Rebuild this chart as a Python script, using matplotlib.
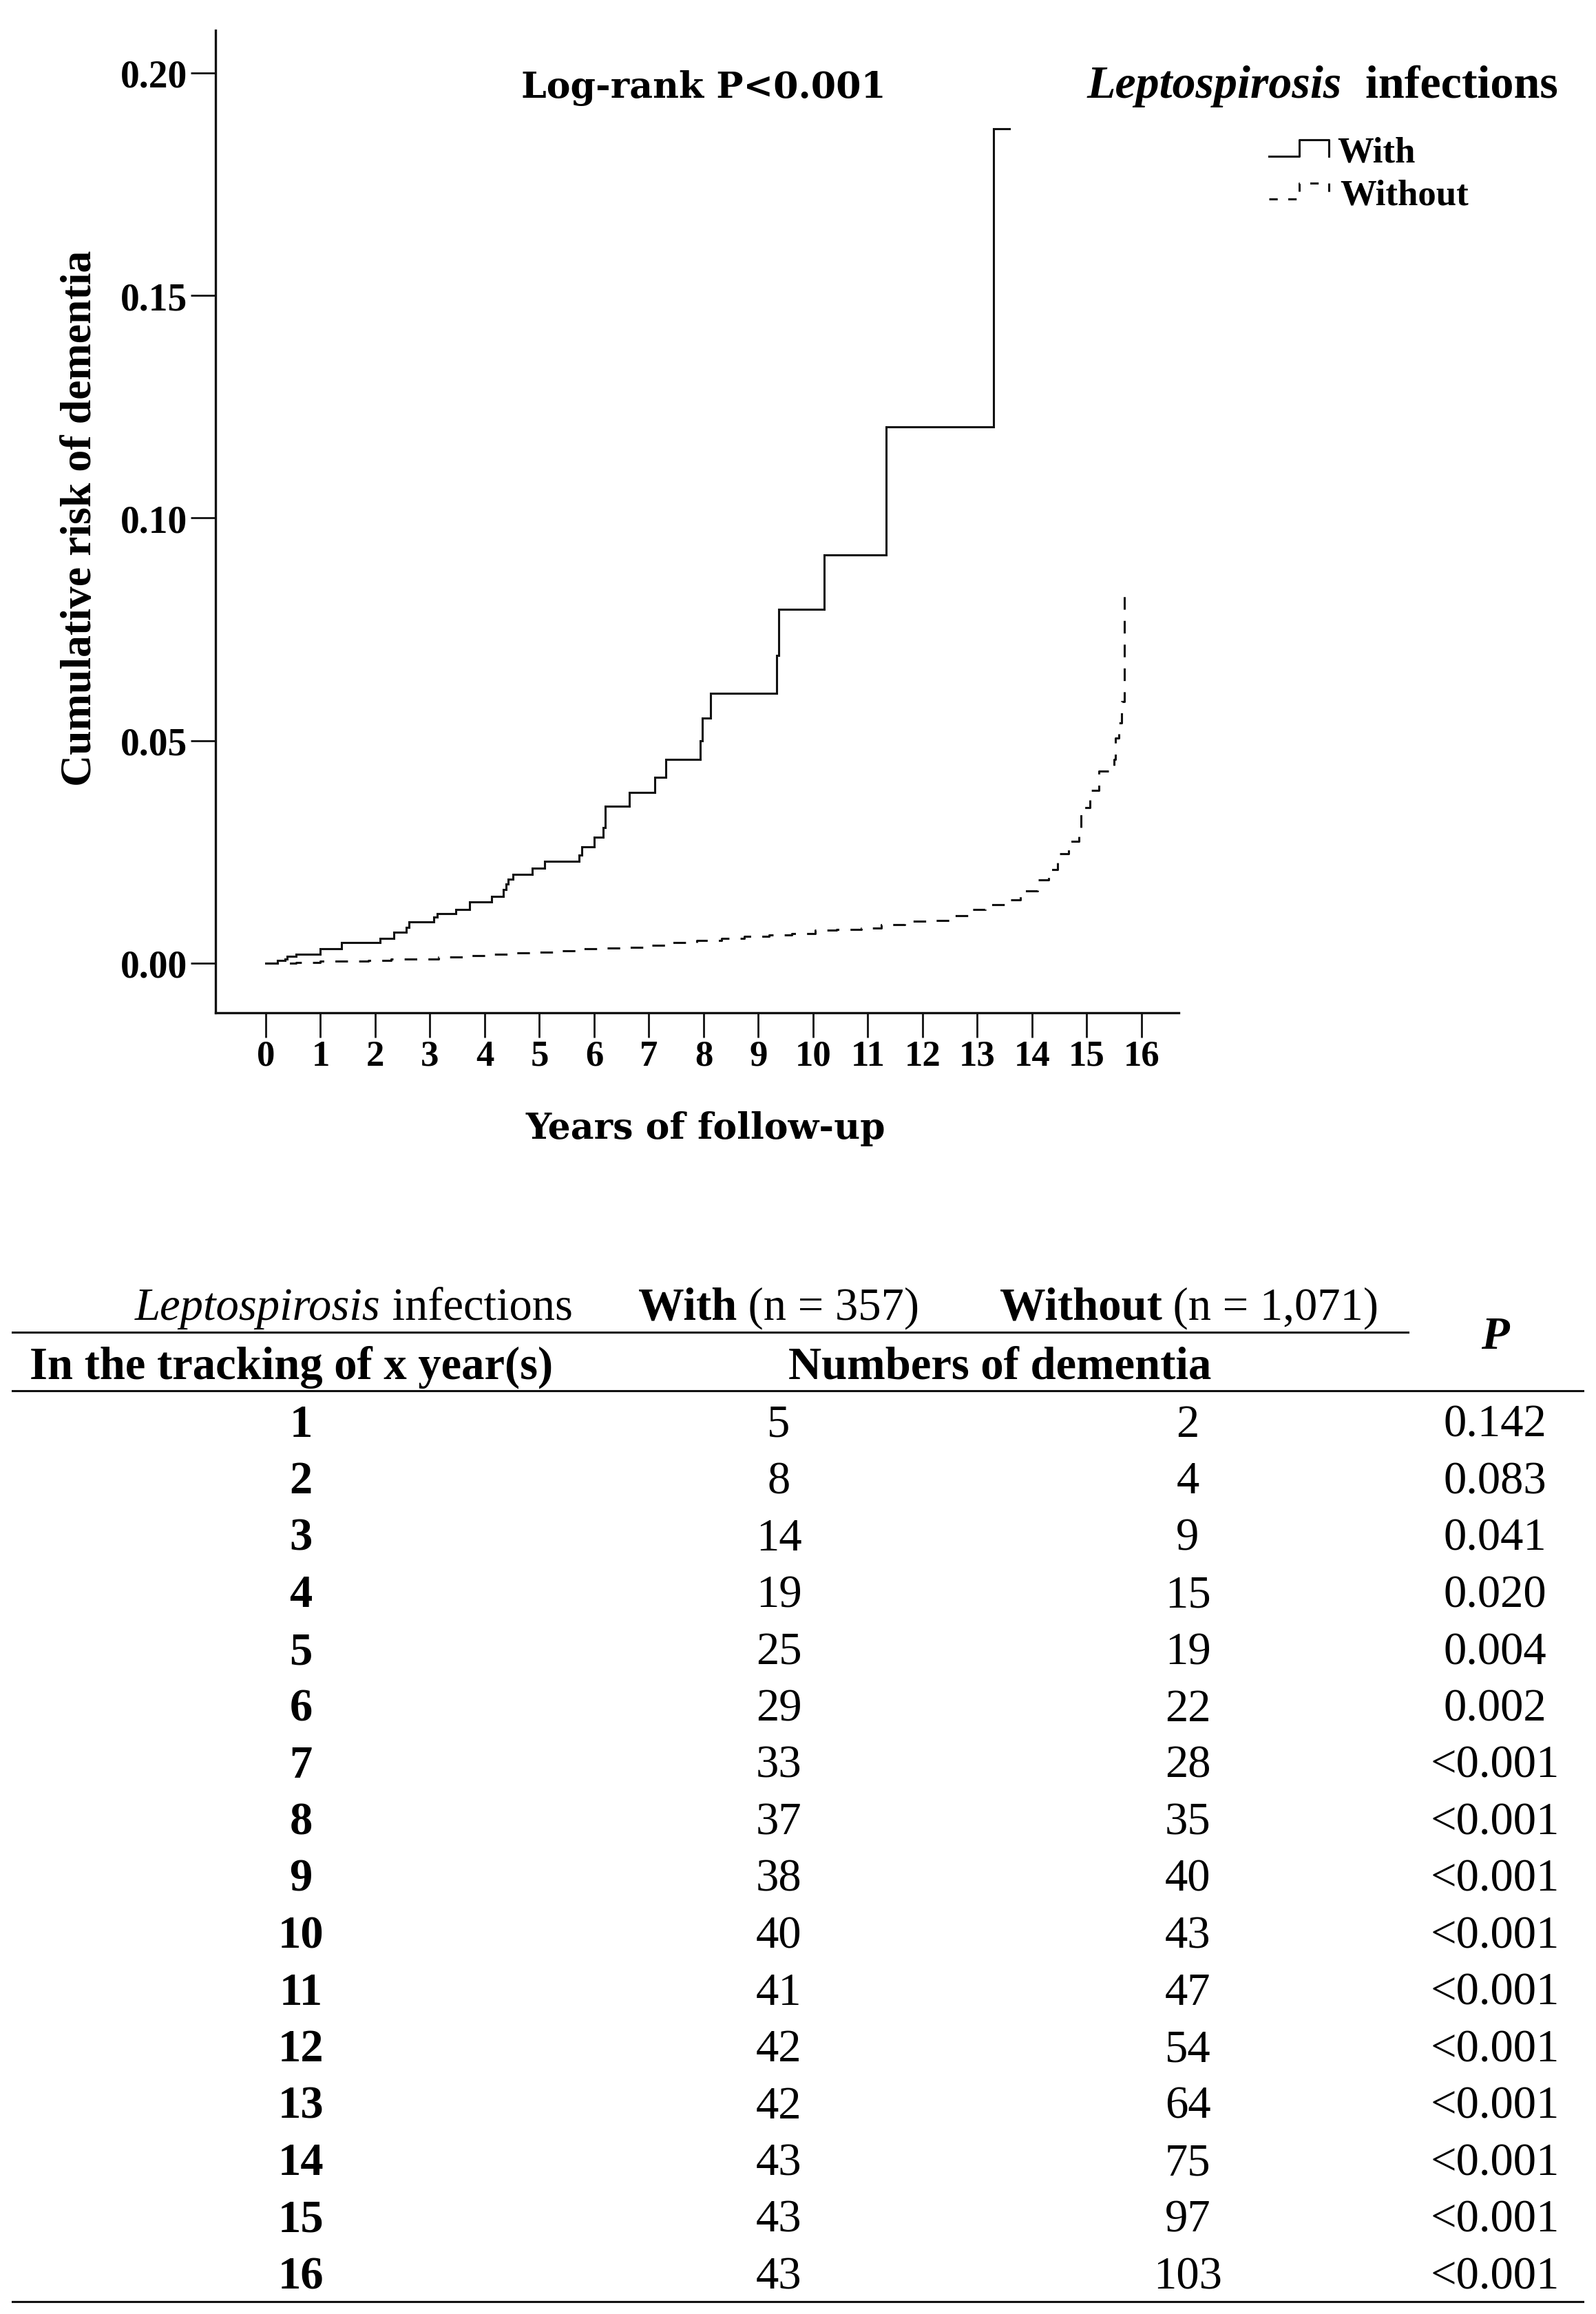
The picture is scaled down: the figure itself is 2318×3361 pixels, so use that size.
import matplotlib
matplotlib.use("Agg")
import matplotlib.pyplot as plt
from matplotlib.lines import Line2D

# ---------------- data ----------------
with_t = [0, 0.21, 0.35, 0.39, 0.55, 0.99, 1.39, 2.09, 2.34, 2.57, 2.62, 3.07, 3.13, 3.47,
          3.72, 4.12, 4.34, 4.39, 4.43, 4.51, 4.87, 5.10, 5.72, 5.77, 6.00, 6.17, 6.20, 6.64,
          7.11, 7.31, 7.94, 7.98, 8.13, 9.33, 9.37, 10.20, 11.33, 13.29, 13.59]
with_v = [0, 0.0006, 0.0009, 0.0015, 0.0020, 0.0032, 0.0047, 0.0055, 0.0070, 0.0080, 0.0092,
          0.0103, 0.0111, 0.0120, 0.0138, 0.0150, 0.0165, 0.0178, 0.0188, 0.0200, 0.0213,
          0.0229, 0.0242, 0.0262, 0.0283, 0.0304, 0.0352, 0.0384, 0.0418, 0.0458, 0.0500,
          0.0551, 0.0606, 0.0692, 0.0795, 0.0917, 0.1205, 0.1874, 0.1874]

without_t = [0, 0.55, 1.00, 1.87, 2.29, 2.74, 3.16, 3.61, 4.03, 4.48, 4.90, 5.35, 5.77, 6.20,
             6.64, 7.04, 7.43, 7.88, 8.33, 8.74, 9.19, 9.61, 10.04, 10.43, 10.88, 11.25, 11.67,
             12.10, 12.49, 12.83, 13.14, 13.56, 13.79, 14.10, 14.30, 14.47, 14.67, 14.85,
             14.89, 15.06, 15.22, 15.50, 15.52, 15.58, 15.63, 15.68, 15.83]
without_v = [0, 0.0001, 0.0004, 0.0006, 0.0009, 0.0010, 0.0014, 0.0017, 0.0020, 0.0023, 0.0025,
             0.0028, 0.0032, 0.0034, 0.0036, 0.0040, 0.0046, 0.0051, 0.0055, 0.0060, 0.0063,
             0.0067, 0.0074, 0.0075, 0.0079, 0.0087, 0.0094, 0.0096, 0.0107, 0.0121, 0.0132,
             0.0143, 0.0163, 0.0187, 0.0211, 0.0246, 0.0273, 0.0305, 0.0349, 0.0388, 0.0432,
             0.0458, 0.0506, 0.0540, 0.0587, 0.0830, 0.0830]

x_ticks = list(range(0, 17))
y_ticks = [0.00, 0.05, 0.10, 0.15, 0.20]
y_tick_labels = ["0.00", "0.05", "0.10", "0.15", "0.20"]

years = list(range(1, 17))
with_counts = [5, 8, 14, 19, 25, 29, 33, 37, 38, 40, 41, 42, 42, 43, 43, 43]
without_counts = [2, 4, 9, 15, 19, 22, 28, 35, 40, 43, 47, 54, 64, 75, 97, 103]
p_values = ["0.142", "0.083", "0.041", "0.020", "0.004", "0.002"] + ["<0.001"] * 10

# ---------------- figure ----------------
W, H = 2318, 3362
DPI = 100
fig = plt.figure(figsize=(W / DPI, H / DPI), dpi=DPI)
fig.patch.set_facecolor("white")


def X(px):
    return px / W


def Y(py):
    return 1 - py / H


SERIF = ["Liberation Serif", "DejaVu Serif"]
WIDE = ["DejaVu Serif"]

ax = fig.add_axes([X(313), Y(1472), X(1712) - X(313), (1472 - 45) / H])
ax.step(with_t, with_v, where="post", color="#111111", lw=2.2, solid_joinstyle="miter")
ax.step(without_t, without_v, where="post", color="#111111", lw=2.2, dashes=(6, 5.3))

ax.set_xlim(-0.918, 16.68)
ax.set_ylim(-0.01114, 0.20956)
for s in ["top", "right"]:
    ax.spines[s].set_visible(False)
for s in ["left", "bottom"]:
    ax.spines[s].set_linewidth(2.4)
    ax.spines[s].set_color("#111111")

ax.set_xticks(x_ticks)
ax.set_xticklabels([str(t) for t in x_ticks], fontfamily=SERIF, fontweight="bold", fontsize=38)
ax.set_yticks(y_ticks)
ax.set_yticklabels(y_tick_labels, fontfamily=SERIF, fontweight="bold", fontsize=40)
ax.tick_params(axis="x", direction="out", length=26, width=2.0, pad=2, color="#111111")
ax.tick_params(axis="y", direction="out", length=26, width=2.0, pad=3.6, color="#111111")

# axis texts
fig.text(X(132), Y(753), "Cumulative risk of dementia", rotation=90, rotation_mode="anchor",
         ha="center", va="baseline", fontfamily=SERIF, fontweight="bold", fontsize=46)
fig.text(X(1025), Y(1654), "Years of follow-up", ha="center", va="baseline",
         fontfamily=WIDE, fontweight="bold", fontsize=37.5)
fig.text(X(1022), Y(142), "Log-rank P<0.001", ha="center", va="baseline",
         fontfamily=WIDE, fontweight="bold", fontsize=37.5)

renderer = fig.canvas.get_renderer()


def rich_text(x_px, base_px, parts, size, align="center"):
    """parts: list of (text, weight, style)."""
    objs = []
    widths = []
    for txt, wt, st in parts:
        t = fig.text(0, Y(base_px), txt, ha="left", va="baseline", fontfamily=SERIF,
                     fontweight=wt, fontstyle=st, fontsize=size)
        bb = t.get_window_extent(renderer=renderer)
        objs.append(t)
        widths.append(bb.width)
    total = sum(widths)
    start = x_px - total / 2 if align == "center" else x_px
    cur = start
    for t, w in zip(objs, widths):
        t.set_x(X(cur))
        cur += w


# legend
rich_text(1579, 142, [("Leptospirosis", "bold", "italic"), ("  infections", "bold", "normal")], 49,
          align="left")
leg_x = [1843, 1887, 1887, 1930, 1930]
fig.add_artist(Line2D([X(v) for v in leg_x], [Y(v) for v in [228, 228, 204, 204, 228]],
                      color="#111111", lw=2.2))
fig.add_artist(Line2D([X(v) for v in leg_x], [Y(v) for v in [290, 290, 267, 267, 290]],
                      color="#111111", lw=2.2, dashes=(4, 5)))
fig.text(X(1942), Y(235), "With", ha="left", va="baseline", fontfamily=SERIF,
         fontweight="bold", fontsize=38)
fig.text(X(1946), Y(298), "Without", ha="left", va="baseline", fontfamily=SERIF,
         fontweight="bold", fontsize=38)

# ---------------- table ----------------
TS = 48
rich_text(514, 1917, [("Leptospirosis", "normal", "italic"), (" infections", "normal", "normal")], TS)
rich_text(1131, 1917, [("With", "bold", "normal"), (" (n = 357)", "normal", "normal")], TS)
rich_text(1727, 1917, [("Without", "bold", "normal"), (" (n = 1,071)", "normal", "normal")], TS)
fig.text(X(2171), Y(1959), "P", ha="center", va="baseline", fontfamily=SERIF,
         fontweight="bold", fontstyle="italic", fontsize=TS)
fig.text(X(423), Y(2003), "In the tracking of x year(s)", ha="center", va="baseline",
         fontfamily=SERIF, fontweight="bold", fontsize=TS)
fig.text(X(1452), Y(2003), "Numbers of dementia", ha="center", va="baseline",
         fontfamily=SERIF, fontweight="bold", fontsize=TS)

for x0, x1, yy in [(18, 2045, 1936), (18, 2299, 2021), (18, 2299, 3344)]:
    fig.add_artist(Line2D([X(x0), X(x1)], [Y(yy), Y(yy)], color="#111111", lw=2.2))

row0 = 2087
step = 82.5
for i, (yr, wc, woc, p) in enumerate(zip(years, with_counts, without_counts, p_values)):
    b = row0 + i * step
    fig.text(X(437), Y(b), str(yr), ha="center", va="baseline", fontfamily=SERIF,
             fontweight="bold", fontsize=TS)
    fig.text(X(1131), Y(b), str(wc), ha="center", va="baseline", fontfamily=SERIF, fontsize=TS)
    fig.text(X(1725), Y(b), str(woc), ha="center", va="baseline", fontfamily=SERIF, fontsize=TS)
    fig.text(X(2171), Y(b), p, ha="center", va="baseline", fontfamily=SERIF, fontsize=TS)

fig.savefig("out.png", dpi=DPI, facecolor="white")
